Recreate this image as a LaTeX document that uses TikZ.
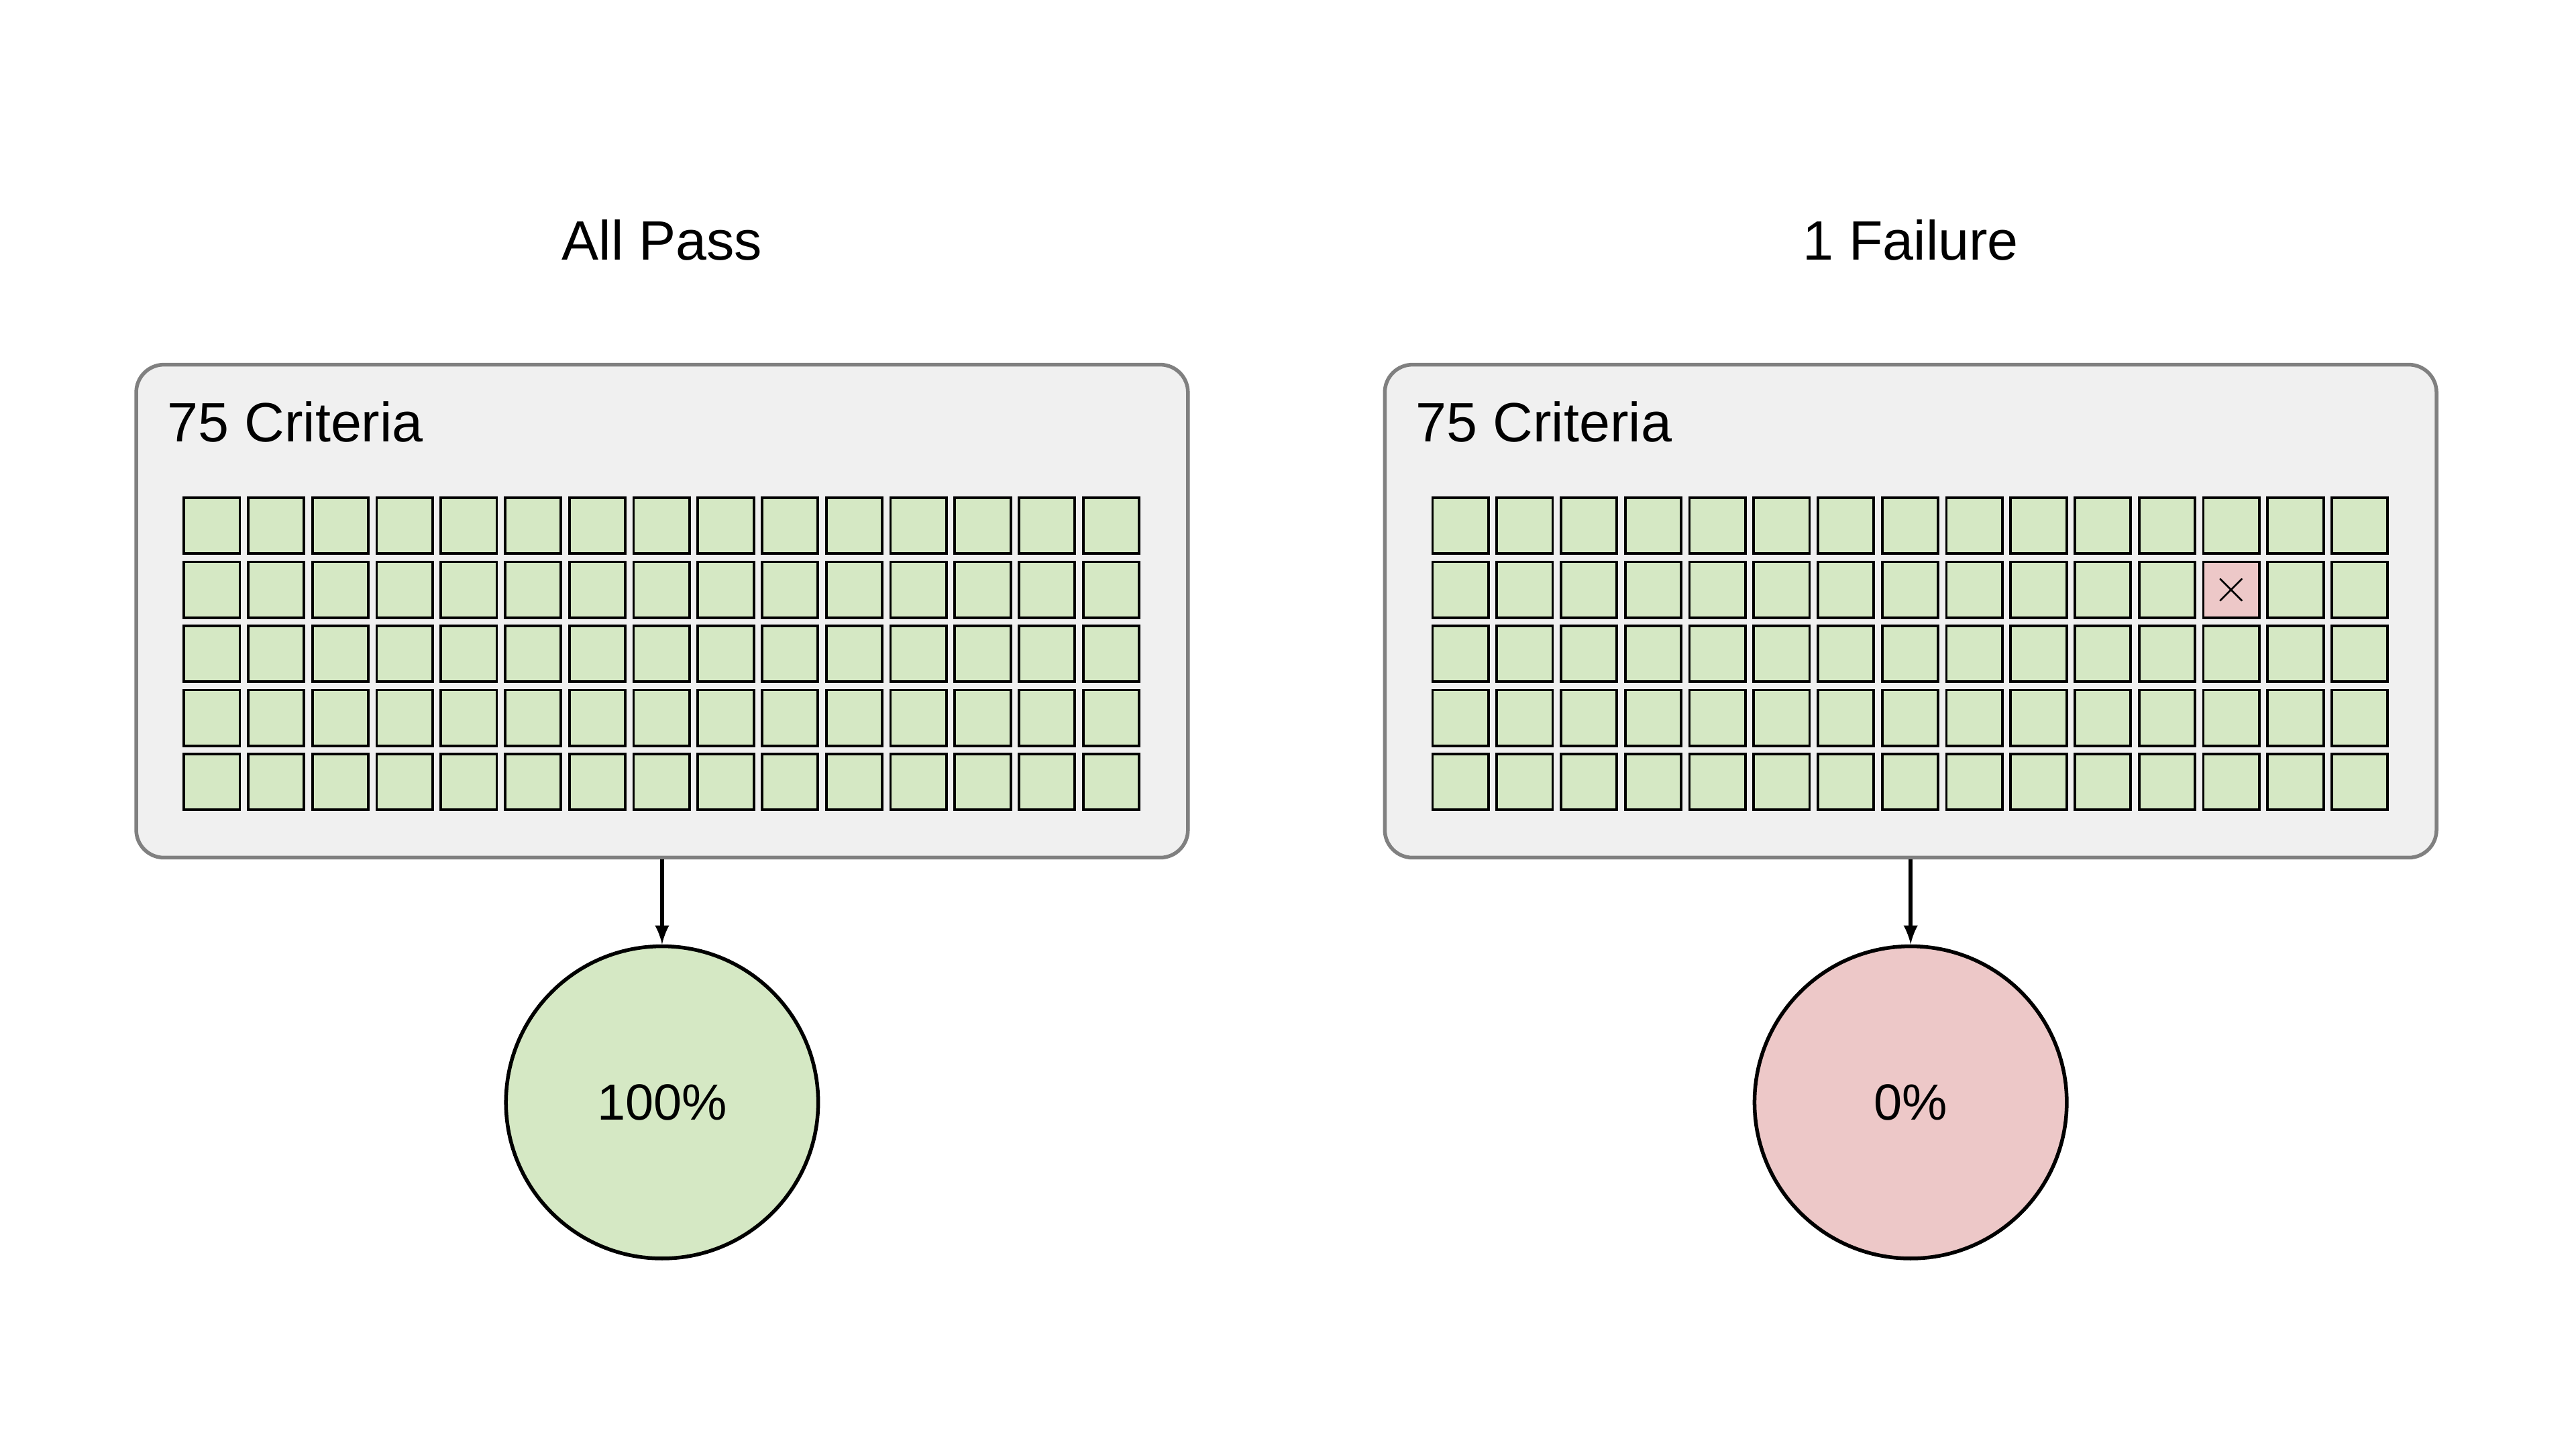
\documentclass[tikz,border=0pt]{standalone}
\usepackage{fontspec}
\setmainfont{Liberation Sans}
\usetikzlibrary{positioning}

\tikzset{
  panel/.style={draw=black!50, line width=1.6pt, fill=black!6, rounded corners=12pt,
    minimum width=16cm, minimum height=7.5cm},
  cell/.style={draw=black, line width=1.1pt, fill=okfill, minimum size=0.85cm, inner sep=0pt},
  result/.style={circle, draw=black, line width=1.6pt, minimum size=4.75cm, font=\fontsize{22}{26}\selectfont},
  heading/.style={font=\fontsize{24}{28}\selectfont},
  flow/.style={-latex, line width=1.8pt}
}
\definecolor{okfill}{HTML}{D5E8C4}
\definecolor{badfill}{HTML}{EDC8C8}

\begin{document}
\begin{tikzpicture}[x=0.025cm, y=-0.025cm]
  \useasboundingbox (0,0) rectangle (1568,882);

  % left: all pass
  \node[heading] (passtitle) at (403,146) {All Pass};
  \node[panel] (passbox) at (403,372) {};
  \node[heading, anchor=west] (passlabel) at (97,257) {75 Criteria};
  \foreach \r in {0,...,4}
    \foreach \c in {0,...,14}
      \node[cell] (p-\r-\c) at (129+\c*39.1, 320+\r*39) {};
  \node[result, fill=okfill] (passres) at (403,671) {100\%};
  \draw[flow] (passbox.south) -- (passres.north);

  % right: one failure
  \node[heading] (failtitle) at (1163,146) {1 Failure};
  \node[panel] (failbox) at (1163,372) {};
  \node[heading, anchor=west] (faillabel) at (857,257) {75 Criteria};
  \foreach \r in {0,...,4}
    \foreach \c in {0,...,14}
      \node[cell] (f-\r-\c) at (889+\c*39.1, 320+\r*39) {};
  \node[cell, fill=badfill, font=\fontsize{22}{26}\selectfont] at (f-1-12) {$\times$};
  \node[result, fill=badfill] (failres) at (1163,671) {0\%};
  \draw[flow] (failbox.south) -- (failres.north);
\end{tikzpicture}
\end{document}
